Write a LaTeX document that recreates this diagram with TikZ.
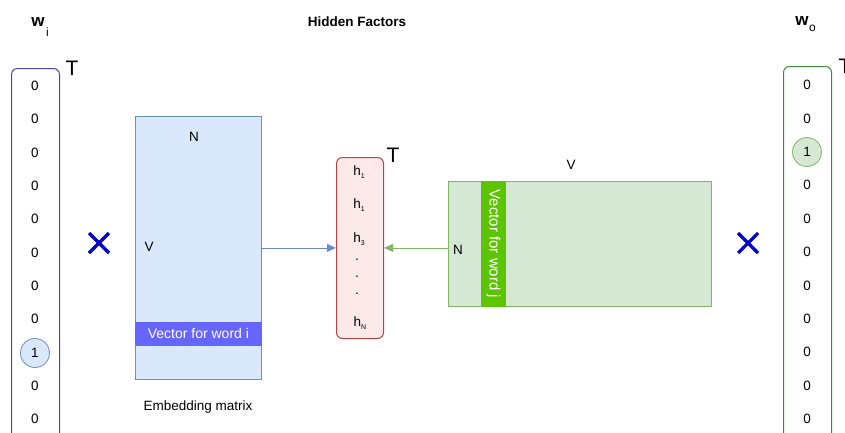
\documentclass[tikz,border=0pt]{standalone}
\usepackage{fontspec}
\setmainfont{Liberation Sans}
\usetikzlibrary{arrows.meta}
\definecolor{vecblue}{HTML}{4646B4}
\definecolor{embfill}{HTML}{DAE8FC}
\definecolor{embline}{HTML}{6C8EBF}
\definecolor{bandblue}{HTML}{6666FF}
\definecolor{hidfill}{HTML}{FBE9E9}
\definecolor{hidline}{HTML}{B04848}
\definecolor{outfill}{HTML}{D5E8D4}
\definecolor{outline}{HTML}{82B366}
\definecolor{vecgreen}{HTML}{3C8A3C}
\definecolor{bandgreen}{HTML}{5CC400}
\definecolor{crossblue}{HTML}{0000CC}
\tikzset{
  txt/.style={font=\fontsize{13.5}{15}\selectfont, inner sep=0pt},
  bigT/.style={font=\fontsize{21}{23}\selectfont, inner sep=0pt},
  vecbox/.style={draw, line width=1pt, rounded corners=6pt, anchor=north west, inner sep=0pt},
  matbox/.style={draw, line width=0.8pt, anchor=north west, inner sep=0pt},
  onecircle/.style={circle, draw, line width=0.8pt, minimum size=29pt, inner sep=0pt, font=\fontsize{13.5}{15}\selectfont},
  cross/.style={draw=crossblue, line width=3.2pt},
  conn/.style={line width=0.8pt, -{Triangle[length=9pt,width=8pt]}},
}
\newcommand{\hsub}[1]{h\raisebox{-3.5pt}{\fontsize{7}{7}\selectfont #1}}
\begin{document}
\begin{tikzpicture}[x=1pt,y=-1pt]
\useasboundingbox (0,0) rectangle (845,432);
\clip (0,0) rectangle (845,432);

% input one-hot vector
\node[vecbox, draw=vecblue, minimum width=48pt, minimum height=390pt] (wi) at (11,68) {};
\node[txt, font=\fontsize{17}{18}\selectfont\bfseries] (wilab) at (38,22) {w};
\node[txt, font=\fontsize{12}{13}\selectfont] (wisub) at (47.5,32) {i};
\node[bigT] (wiT) at (72,68) {T};
\foreach \k in {0,...,7,9,10} {
  \node[txt] (wi\k) at (35,{86+33.3*\k}) {0};
}
\node[onecircle, draw=embline, fill=embfill] (wi8) at (35,353) {1};

% output one-hot vector
\node[vecbox, draw=vecgreen, minimum width=48pt, minimum height=390pt] (wo) at (783,66) {};
\node[txt, font=\fontsize{17}{18}\selectfont\bfseries] (wolab) at (802,21) {w};
\node[txt, font=\fontsize{12}{13}\selectfont] (wosub) at (812.5,28) {o};
\node[bigT] (woT) at (845,66) {T};
\foreach \k in {0,1,3,4,...,10} {
  \node[txt] (wo\k) at (807,{85+33.4*\k}) {0};
}
\node[onecircle, draw=outline, fill=outfill] (wo2) at (807,152) {1};

% multiplication signs
\foreach \n/\cx in {xl/99, xr/748} {
  \coordinate (\n) at (\cx,243);
  \draw[cross] ([shift={(-10,-10)}]\n) -- ([shift={(10,10)}]\n);
  \draw[cross] ([shift={(-10,10)}]\n) -- ([shift={(10,-10)}]\n);
}

% title
\node[txt, font=\fontsize{13.5}{15}\selectfont\bfseries] (title) at (357,22) {Hidden Factors};

% embedding matrix
\node[matbox, draw=embline, fill=embfill, minimum width=126pt, minimum height=263pt] (emb) at (135,116) {};
\node[matbox, draw=bandblue, fill=bandblue, minimum width=126pt, minimum height=23pt] (embband) at (135,322) {};
\node[txt, text=white, font=\fontsize{14}{15}\selectfont] (embbandtxt) at (embband.center) {Vector for word i};
\node[txt] (embN) at (194,137) {N};
\node[txt] (embV) at (149,247) {V};
\node[txt] (embcap) at (198,407) {Embedding matrix};

% hidden layer
\node[vecbox, draw=hidline, fill=hidfill, minimum width=47pt, minimum height=181pt] (hid) at (336,157) {};
\node[bigT] (hidT) at (393,155) {T};
\node[txt] (h1) at (359,172) {\hsub{1}};
\node[txt] (h2) at (359,205) {\hsub{1}};
\node[txt] (h3) at (359,239) {\hsub{3}};
\foreach \k/\yy in {a/260, b/277, c/294} {
  \node[txt] (dot\k) at (357,\yy) {.};
}
\node[txt] (hN) at (360,323) {\hsub{N}};

% context matrix
\node[matbox, draw=outline, fill=outfill, minimum width=263pt, minimum height=125pt] (ctx) at (448,181) {};
\node[matbox, draw=bandgreen, fill=bandgreen, minimum width=24pt, minimum height=125pt] (ctxband) at (481,181) {};
\node[txt, text=white, rotate=-90, font=\fontsize{15}{16}\selectfont] (ctxbandtxt) at (ctxband.center) {Vector for word j};
\node[txt] (ctxV) at (571,165) {V};
\node[txt] (ctxN) at (458,250) {N};

% connectors
\draw[conn, draw=embline] (emb.east) -- (emb.east -| hid.west) coordinate (hidin);
\draw[conn, draw=outline] (ctx.west |- emb.east) -- (emb.east -| hid.east);
\end{tikzpicture}
\end{document}
